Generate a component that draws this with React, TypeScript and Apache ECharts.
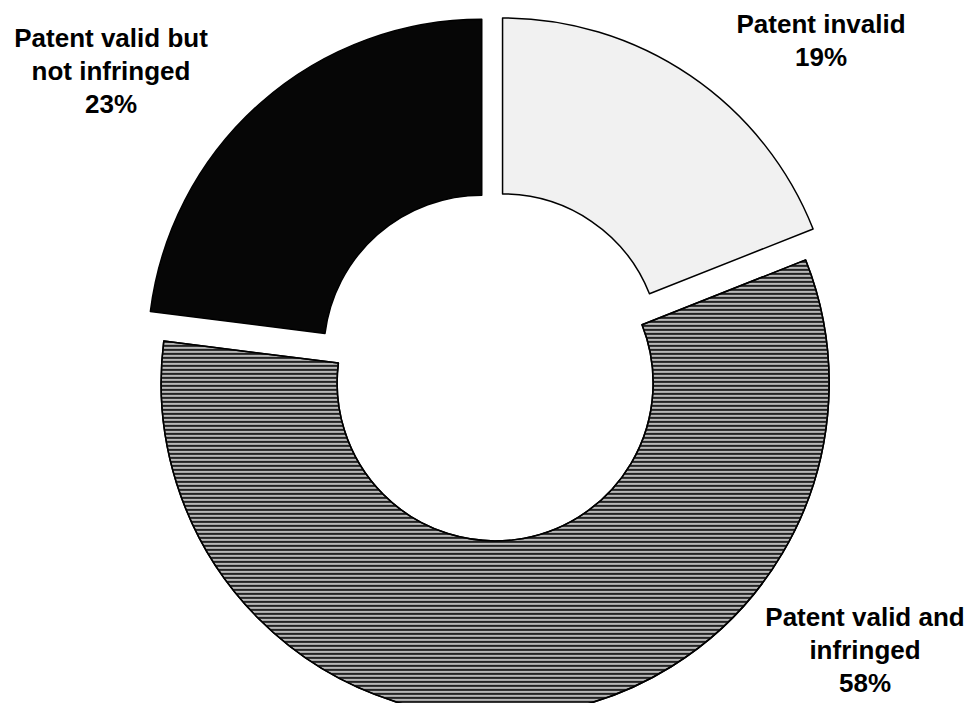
import React, { useEffect, useRef } from "react";
import * as echarts from "echarts";

const categories = ["Patent invalid", "Patent valid and\ninfringed", "Patent valid but\nnot infringed"];
const values = [19, 58, 23];
const sliceColors = ["#f1f1f1", "#b8b8b8", "#060606"];

export default function App() {
  const ref = useRef<HTMLDivElement>(null);
  useEffect(() => {
    if (!ref.current) return;
    const chart = echarts.init(ref.current, undefined, { renderer: "svg" });
    const labelPos: [number, number][] = [
      [821, 40],
      [865, 650],
      [111, 71],
    ];
    const data = categories.map((name, i) => {
      const itemStyle: any = {
        color: sliceColors[i],
        borderColor: "#000",
        borderWidth: 1.5,
      };
      if (i === 1) {
        itemStyle.decal = {
          symbol: "rect",
          symbolSize: 1,
          dashArrayX: [1, 0],
          dashArrayY: [1.5, 1.5],
          color: "#222222",
          rotation: 0,
        };
      }
      return {
        name,
        value: values[i],
        selected: true,
        itemStyle,
        select: { itemStyle },
        emphasis: { itemStyle },
      };
    });
    const total = values.reduce((a, b) => a + b, 0);
    chart.setOption({
      animation: false,
      backgroundColor: "#ffffff",
      series: [
        {
          type: "pie",
          center: [493, 366],
          radius: [158, 334],
          startAngle: 90,
          clockwise: true,
          selectedMode: "multiple",
          selectedOffset: 17,
          data,
          label: { show: false },
          labelLine: { show: false },
        },
      ],
      graphic: categories.map((name, i) => ({
        type: "text",
        x: labelPos[i][0],
        y: labelPos[i][1],
        style: {
          text: `${name}\n${Math.round((values[i] / total) * 100)}%`,
          align: "center",
          verticalAlign: "middle",
          fontFamily: "'Liberation Sans', Arial, sans-serif",
          fontWeight: "bold",
          fontSize: 26,
          lineHeight: 33,
          fill: "#000",
        },
      })),
    });
    return () => chart.dispose();
  }, []);
  return (
    <div
      ref={ref}
      style={{ position: "fixed", left: 0, top: 0, width: 969, height: 703 }}
    />
  );
}
